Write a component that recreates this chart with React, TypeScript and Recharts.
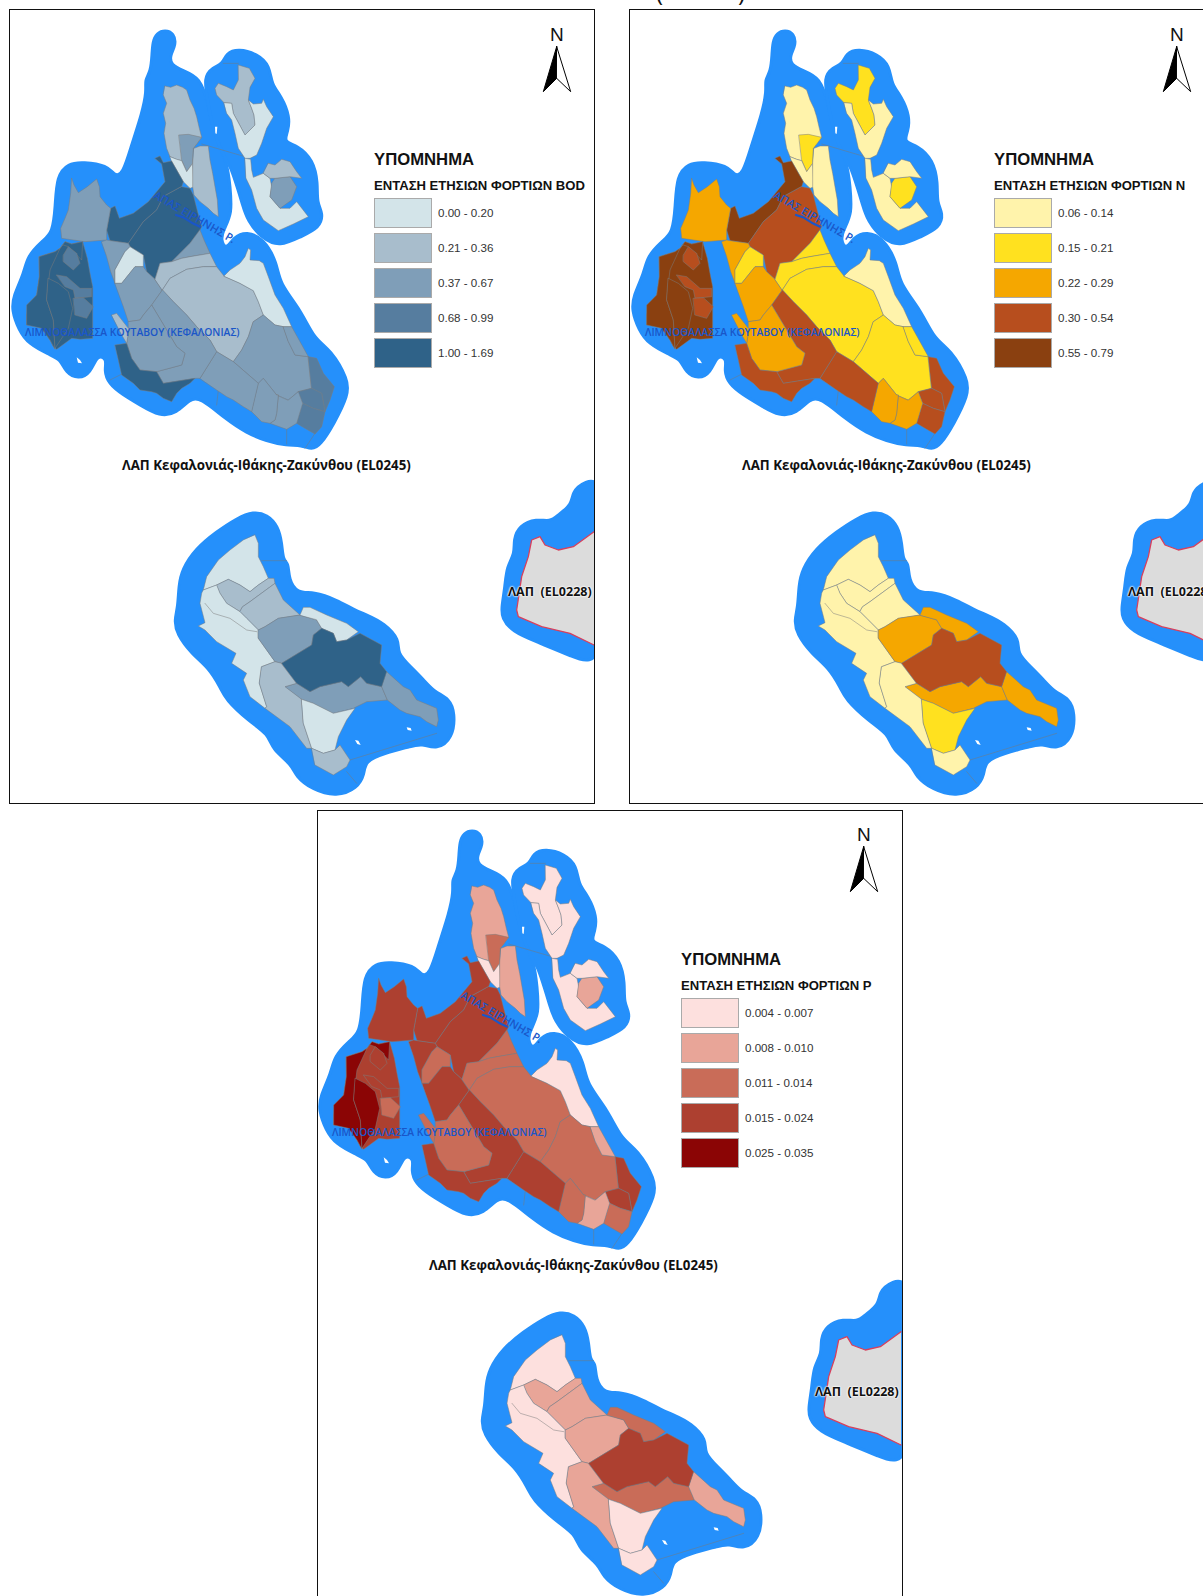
import { ScatterChart, Scatter, XAxis, YAxis } from 'recharts'

type Pt = [number, number]

// all outlines are in map units: 3 units = 1 screen px
const MAP_W = 1785
const MAP_H = 2430

const BOD_COLORS = ['#d3e4e9', '#a8bdcc', '#7f9eb8', '#567d9f', '#2f6288']
const N_COLORS = ['#fff3ab', '#ffe11f', '#f5a700', '#b74e1e', '#8a4010']
const P_COLORS = ['#fde0de', '#e8a598', '#c96c58', '#ad4030', '#8b0505']
const SEA_COLOR = '#2590fb'

const BOD_LABELS = ['0.00 - 0.20', '0.21 - 0.36', '0.37 - 0.67', '0.68 - 0.99', '1.00 - 1.69']
const N_LABELS = ['0.06 - 0.14', '0.15 - 0.21', '0.22 - 0.29', '0.30 - 0.54', '0.55 - 0.79']
const P_LABELS = ['0.004 - 0.007', '0.008 - 0.010', '0.011 - 0.014', '0.015 - 0.024', '0.025 - 0.035']

const kefaloniaSea: Pt[] = [[470,100],[495,90],[522,100],[528,135],[510,165],[512,195],[550,212],[600,232],[625,310],[640,400],[683,490],[690,560],[697,640],[670,690],[662,720],[678,750],[700,712],[740,694],[792,716],[832,790],[838,850],[903,930],[943,1018],[992,1048],[1045,1140],[1045,1185],[1002,1272],[962,1335],[935,1350],[905,1335],[860,1337],[800,1324],[738,1298],[678,1258],[600,1192],[570,1197],[530,1240],[480,1250],[418,1214],[368,1184],[326,1152],[312,1110],[322,1078],[292,1062],[272,1120],[235,1137],[197,1118],[182,1078],[148,1064],[86,1032],[56,990],[35,930],[40,888],[72,820],[82,768],[128,722],[158,698],[166,620],[170,528],[204,490],[250,486],[322,496],[342,526],[368,526],[396,430],[426,340],[440,272],[434,240],[452,215],[456,165],[458,125]]
const ithakiSea: Pt[] = [[610,232],[638,202],[668,192],[678,160],[715,146],[773,162],[810,198],[814,253],[844,288],[870,350],[864,395],[850,426],[893,436],[940,480],[954,550],[950,608],[970,640],[959,684],[902,710],[840,740],[788,718],[742,662],[727,612],[712,562],[692,502],[683,490],[640,400],[625,310]]
const zakynthosSea: Pt[] = [[310,64],[352,74],[384,108],[396,160],[399,212],[416,218],[416,268],[442,310],[490,305],[562,330],[612,360],[652,375],[703,400],[750,450],[740,488],[784,532],[818,566],[853,606],[899,626],[915,670],[909,744],[860,780],[815,760],[780,770],[702,790],[644,814],[644,852],[622,895],[560,920],[488,900],[436,858],[426,824],[366,778],[356,733],[297,694],[226,628],[211,592],[176,533],[126,493],[80,432],[73,390],[84,350],[86,288],[96,238],[137,176],[198,126],[260,85]]
const mainlandSea: Pt[] = [[420,50],[340,64],[306,98],[306,133],[263,166],[240,186],[200,176],[148,196],[130,240],[135,280],[110,320],[105,380],[95,440],[95,474],[127,515],[198,545],[298,585],[420,640]]
const mainlandLand: Pt[] = [[372,555],[300,520],[215,500],[145,470],[140,450],[155,350],[175,290],[185,240],[210,230],[225,255],[265,270],[310,260],[372,215]]

// Kefalonia and Ithaki sub-basins, drawn in this order
const kefaloniaShapes: Pt[][] = [
  [[495,258],[512,262],[530,255],[548,262],[560,270],[570,300],[582,325],[590,350],[598,385],[605,412],[590,432],[580,445],[578,490],[560,515],[545,482],[530,478],[510,470],[500,445],[492,400],[497,370],[490,340],[500,310],[490,285]],
  [[537,405],[565,403],[605,412],[590,432],[580,445],[578,490],[560,515],[545,480]],
  [[510,470],[530,478],[545,482],[560,515],[578,490],[582,560],[570,565],[550,545],[530,510],[515,485]],
  [[582,445],[600,438],[625,438],[630,480],[638,520],[645,560],[652,600],[655,650],[640,640],[625,625],[600,605],[582,585],[578,560],[578,490]],
  [[465,475],[480,468],[490,488],[515,483],[530,510],[550,545],[545,560],[490,590],[470,630],[430,665],[385,730],[330,722],[320,690],[332,625],[345,618],[358,655],[400,640],[445,605],[495,545],[485,492]],
  [[545,560],[570,565],[580,585],[590,625],[605,680],[600,690],[570,730],[515,785],[480,790],[465,838],[440,815],[430,765],[390,740],[385,730],[430,665],[470,630],[490,590]],
  [[215,535],[222,555],[235,578],[262,560],[290,537],[298,560],[300,590],[320,615],[332,625],[320,690],[320,720],[255,725],[185,715],[182,685],[195,655],[205,630],[212,580]],
  [[305,725],[320,720],[330,722],[385,730],[390,740],[375,755],[345,810],[345,850],[332,815],[320,770]],
  [[375,755],[390,740],[430,765],[430,800],[405,800],[365,850],[345,850],[345,810]],
  [[345,850],[365,850],[405,800],[430,800],[440,815],[465,838],[487,870],[455,915],[430,945],[420,960],[385,965],[370,920]],
  [[600,690],[612,720],[630,760],[600,765],[570,770],[545,775],[515,785],[570,730]],
  [[465,838],[480,790],[515,785],[545,775],[570,770],[600,765],[630,760],[650,800],[610,800],[560,808],[510,835],[487,870]],
  [[487,870],[510,835],[560,808],[610,800],[650,800],[672,828],[720,850],[760,872],[775,905],[790,945],[760,965],[745,1010],[725,1050],[700,1085],[650,1055],[630,1020],[590,980],[560,945],[520,905]],
  [[672,828],[690,810],[720,790],[735,770],[745,745],[752,750],[750,780],[778,782],[790,790],[805,830],[825,885],[850,925],[875,980],[850,980],[825,975],[790,945],[775,905],[760,872],[720,850]],
  [[760,965],[790,945],[825,975],[850,980],[865,1025],[885,1065],[925,1070],[935,1165],[895,1175],[865,1200],[830,1185],[790,1135],[775,1150],[700,1085],[725,1050],[745,1010]],
  [[850,980],[875,980],[900,1025],[925,1070],[885,1065],[865,1025]],
  [[925,1070],[950,1075],[970,1120],[1003,1160],[990,1200],[975,1235],[965,1180],[935,1165]],
  [[895,1175],[935,1165],[965,1180],[975,1235],[940,1225],[908,1210]],
  [[908,1210],[940,1225],[975,1235],[965,1280],[945,1302],[915,1285],[890,1270]],
  [[865,1200],[895,1175],[908,1210],[890,1270],[860,1288],[810,1270],[825,1260],[830,1240],[835,1185],[830,1185]],
  [[775,1150],[790,1135],[830,1185],[835,1185],[830,1240],[825,1260],[810,1270],[785,1265],[755,1235]],
  [[600,1135],[650,1055],[700,1085],[775,1150],[755,1235],[730,1220],[700,1200],[680,1190],[650,1170]],
  [[487,870],[455,915],[530,1040],[555,1060],[545,1095],[470,1115],[490,1150],[585,1135],[600,1135],[650,1055],[630,1020],[590,980],[560,945],[520,905]],
  [[385,965],[420,960],[430,945],[455,915],[530,1040],[555,1060],[545,1095],[470,1115],[420,1110],[395,1075],[380,1030],[385,1000]],
  [[345,1035],[380,1030],[395,1075],[420,1110],[470,1115],[490,1150],[585,1135],[570,1150],[545,1165],[530,1180],[515,1205],[490,1195],[470,1180],[455,1175],[420,1170],[400,1150],[365,1125],[355,1080]],
  [[335,945],[350,940],[385,985],[385,1000],[380,1030],[365,1005]],
  [[118,770],[165,755],[180,745],[195,725],[215,732],[248,725],[255,750],[262,775],[270,820],[278,860],[278,930],[278,1015],[240,1018],[215,1015],[170,1048],[160,1040],[150,1020],[125,985],[100,975],[80,975],[80,945],[85,915],[110,885],[115,850],[118,830]],
  [[118,770],[165,755],[180,745],[150,810],[145,850],[140,900],[160,960],[165,1048],[150,1020],[125,985],[80,975],[80,915],[110,885],[118,830]],
  [[145,835],[175,850],[205,875],[218,925],[205,985],[165,1045],[160,960],[140,900]],
  [[180,745],[195,725],[215,732],[248,725],[245,780],[225,760],[205,740],[190,735]],
  [[190,765],[205,740],[230,760],[240,790],[220,810],[190,785]],
  [[170,825],[200,830],[240,865],[275,865],[275,890],[225,895],[220,870],[195,860]],
  [[220,895],[250,893],[280,920],[260,955],[225,945]],
  [[715,195],[748,205],[765,235],[750,262],[745,300],[755,325],[762,345],[765,375],[735,405],[700,340],[695,310],[672,308],[650,285],[645,265],[655,250],[680,260],[700,270],[715,240]],
  [[672,308],[695,310],[700,340],[735,405],[765,375],[762,345],[755,325],[745,300],[760,312],[785,310],[790,298],[800,320],[820,350],[800,385],[785,430],[770,465],[750,475],[735,475],[715,445],[705,400],[695,360],[680,340]],
  [[735,475],[752,478],[755,510],[760,532],[790,520],[810,535],[815,560],[810,590],[840,625],[870,625],[890,605],[925,650],[880,672],[835,692],[790,660],[770,625],[755,570],[738,535]],
  [[825,535],[870,530],[890,560],[875,600],[840,625],[810,590],[815,550]],
  [[805,490],[825,495],[845,478],[870,485],[890,515],[905,535],[870,530],[825,535],[810,535],[790,520]],
]
const kefaloniaBod = [1,2,0,1,4,4,2,2,0,2,2,1,1,0,2,2,3,3,3,2,2,2,2,2,4,1,4,4,4,4,3,3,3,1,0,0,2,1]
const kefaloniaN = [0,1,0,0,4,3,2,2,1,2,1,1,1,0,1,1,3,3,3,2,2,3,3,2,3,2,4,4,4,4,3,3,3,1,0,0,1,0]
const kefaloniaP = [1,2,0,1,3,3,3,3,2,3,2,2,2,0,2,1,3,3,2,1,2,3,3,2,3,2,3,4,4,4,3,3,2,0,0,0,1,0]

const zakynthosShapes: Pt[][] = [
  [[315,135],[325,160],[325,200],[340,230],[355,265],[325,285],[300,305],[270,285],[235,268],[200,285],[160,300],[170,260],[205,210],[240,180],[280,150]],
  [[200,285],[235,268],[270,285],[300,305],[325,285],[355,265],[372,265],[375,280],[300,335],[278,350],[270,365],[230,340],[210,310]],
  [[278,350],[300,335],[375,280],[400,330],[450,375],[385,385],[345,410],[325,420],[290,385],[270,365]],
  [[160,300],[200,285],[210,310],[230,340],[270,365],[290,385],[325,420],[325,445],[375,515],[335,530],[328,580],[350,650],[345,655],[300,620],[280,570],[290,550],[245,520],[258,490],[200,455],[165,420],[145,408],[165,398],[150,340],[155,310]],
  [[325,420],[345,410],[385,385],[450,375],[500,390],[515,415],[490,435],[485,465],[395,520],[375,515],[325,445]],
  [[450,375],[460,352],[480,352],[530,375],[590,400],[625,425],[590,450],[560,455],[550,430],[515,415],[500,390]],
  [[405,590],[440,580],[480,605],[510,590],[575,575],[595,590],[632,560],[650,580],[695,590],[712,630],[650,635],[610,655],[550,670],[490,640],[455,628]],
  [[710,545],[760,590],[780,600],[800,630],[860,655],[865,690],[860,710],[830,695],[810,680],[770,670],[750,660],[712,630],[695,590]],
  [[335,530],[375,515],[395,520],[440,580],[405,590],[455,628],[460,700],[485,775],[470,775],[420,710],[345,655],[350,650],[328,580]],
  [[455,628],[490,640],[550,670],[615,655],[590,690],[565,740],[555,780],[520,790],[485,775],[460,700]],
  [[485,775],[520,790],[555,780],[570,765],[600,810],[590,830],[550,855],[495,825]],
  [[395,520],[485,465],[490,435],[515,415],[550,430],[560,455],[590,450],[630,430],[695,465],[690,520],[710,545],[695,590],[650,580],[632,560],[595,590],[575,575],[510,590],[480,605],[440,580]],
]
const zakynthosBod = [0,1,1,0,2,0,2,2,1,0,1,4]
const zakynthosN = [0,0,0,0,2,2,2,2,0,1,0,3]
const zakynthosP = [0,1,1,0,1,2,2,1,1,0,0,3]

const kefaloniaLines: Pt[][] = [
  [[605,432],[735,470]],
  [[670,190],[715,190]],
  [[330,1140],[370,1120]],
  [[860,1285],[860,1332]],
  [[945,1300],[915,1345]],
  [[655,1170],[650,1215]],
]
const zakynthosLines: Pt[][] = [
  [[335,212],[410,212]],
  [[600,810],[860,730]],
  [[590,845],[620,880]],
  [[165,340],[190,370],[240,385],[290,420],[320,425]],
]
const kefaloniaIslets: Pt[][] = [
  [[645,380],[652,380],[650,402],[646,400]],
  [[230,1072],[240,1080],[246,1090],[234,1088]],
]
const zakynthosIslets: Pt[][] = [
  [[615,750],[625,752],[632,765],[622,762]],
  [[770,712],[782,714],[785,722],[773,720]],
]
const river: Pt[] = [[528,645],[550,652],[575,668],[600,680]]
const arrowLeft: Pt[] = [[1670,140],[1630,275],[1670,235]]
const arrowRight: Pt[] = [[1670,140],[1712,275],[1670,235]]

const toData = (pts: Pt[], dx = 0, dy = 0) => pts.map(([x, y]) => ({ x: x + dx, y: y + dy }))
const NoDot = () => <g />

const ZAK_DX = 450
const ZAK_DY = 1470
const MAIN_DX = 1410
const MAIN_DY = 1380

function polygon(key: string, pts: Pt[], fill: string, stroke: string, strokeWidth: number, dx = 0, dy = 0, joint: any = 'linearClosed') {
  return (
    <Scatter
      key={key}
      data={toData(pts, dx, dy)}
      isAnimationActive={false}
      shape={NoDot}
      lineJointType={joint}
      line={{ fill, stroke, strokeWidth, strokeLinejoin: 'round', strokeLinecap: 'round' }}
    />
  )
}

interface MapPanelProps {
  left: number
  top: number
  frameLeft: number
  frameTop: number
  frameW: number
  frameH: number
  colors: string[]
  kefClasses: number[]
  zakClasses: number[]
  legendTitle: string
  labels: string[]
}

function MapPanel({ left, top, frameLeft, frameTop, frameW, frameH, colors, kefClasses, zakClasses, legendTitle, labels }: MapPanelProps) {
  return (
    <div style={{ position: 'absolute', left, top, width: MAP_W / 3, height: MAP_H / 3 }}>
      <ScatterChart width={MAP_W / 3} height={MAP_H / 3} margin={{ top: 0, right: 0, bottom: 0, left: 0 }}>
        <XAxis type="number" dataKey="x" domain={[0, MAP_W]} hide allowDataOverflow />
        <YAxis type="number" dataKey="y" domain={[0, MAP_H]} reversed hide allowDataOverflow />
        {polygon('mainSea', mainlandSea, SEA_COLOR, SEA_COLOR, 3, MAIN_DX, MAIN_DY, 'basisClosed')}
        {polygon('mainLand', mainlandLand, '#dcdcdc', 'none', 0, MAIN_DX, MAIN_DY)}
        {polygon('mainEdge', mainlandLand, 'none', '#d8405c', 1.3, MAIN_DX, MAIN_DY, 'linear')}
        {polygon('kefSea', kefaloniaSea, SEA_COLOR, SEA_COLOR, 3, 0, 0, 'basisClosed')}
        {polygon('ithSea', ithakiSea, SEA_COLOR, SEA_COLOR, 3, 0, 0, 'basisClosed')}
        {polygon('zakSea', zakynthosSea, SEA_COLOR, SEA_COLOR, 3, ZAK_DX, ZAK_DY, 'basisClosed')}
        {kefaloniaLines.map((l, i) => polygon(`kl${i}`, l, 'none', '#5f7f9f', 0.7, 0, 0, 'linear'))}
        {zakynthosLines.slice(0, 3).map((l, i) => polygon(`zl${i}`, l, 'none', '#5f7f9f', 0.7, ZAK_DX, ZAK_DY, 'linear'))}
        {kefaloniaIslets.map((s, i) => polygon(`ki${i}`, s, '#ffffff', 'none', 0))}
        {zakynthosIslets.map((s, i) => polygon(`zi${i}`, s, '#ffffff', 'none', 0, ZAK_DX, ZAK_DY))}
        {kefaloniaShapes.map((s, i) => polygon(`k${i}`, s, colors[kefClasses[i]], '#7c7c7c', 0.5))}
        {zakynthosShapes.map((s, i) => polygon(`z${i}`, s, colors[zakClasses[i]], '#7c7c7c', 0.5, ZAK_DX, ZAK_DY))}
        {polygon('zl3', zakynthosLines[3], 'none', '#7c7c7c', 0.5, ZAK_DX, ZAK_DY, 'linear')}
        {polygon('river', river, 'none', '#1a56c8', 2.2, 0, 0, 'linear')}
        {polygon('arrowL', arrowLeft, '#000000', '#000000', 1)}
        {polygon('arrowR', arrowRight, '#ffffff', '#000000', 1)}
      </ScatterChart>

      <div style={{ position: 'absolute', left: frameLeft, top: frameTop, width: frameW, height: frameH, border: '1.5px solid #111', boxSizing: 'border-box', pointerEvents: 'none' }} />

      <div style={{ position: 'absolute', left: 550, top: 24, font: '19px "Liberation Sans"', color: '#111' }}>N</div>

      <div style={{ position: 'absolute', left: 374, top: 150, font: 'bold 16.7px "Liberation Sans"', color: '#111' }}>ΥΠΟΜΝΗΜΑ</div>
      <div style={{ position: 'absolute', left: 374, top: 178, font: 'bold 13.1px "Liberation Sans"', color: '#111', whiteSpace: 'nowrap' }}>{legendTitle}</div>
      {labels.map((label, i) => (
        <div key={label}>
          <div style={{ position: 'absolute', left: 374, top: 198 + i * 35, width: 58, height: 30, background: colors[i], border: '1px solid #aaa', boxSizing: 'border-box' }} />
          <div style={{ position: 'absolute', left: 438, top: 206 + i * 35, font: '11.6px "Liberation Sans"', color: '#333', whiteSpace: 'nowrap' }}>{label}</div>
        </div>
      ))}

      <div style={{ position: 'absolute', left: 122, top: 456, font: 'bold 13.3px "Open Sans"', color: '#111', whiteSpace: 'nowrap' }}>ΛΑΠ Κεφαλονιάς-Ιθάκης-Ζακύνθου (EL0245)</div>
      <div style={{ position: 'absolute', left: 508, top: 583, font: 'bold 12.5px "Open Sans"', color: '#111', whiteSpace: 'pre', textShadow: '0 0 2px #fff, 0 0 2px #fff, 0 0 2px #fff' }}>ΛΑΠ  (EL0228)</div>
      <div style={{ position: 'absolute', left: 25, top: 325, font: '600 10.3px "Open Sans"', color: '#1a56c8', whiteSpace: 'nowrap' }}>ΛΙΜΝΟΘΑΛΑΣΣΑ ΚΟΥΤΑΒΟΥ (ΚΕΦΑΛΟΝΙΑΣ)</div>
      <div style={{ position: 'absolute', left: 155, top: 186, font: '600 11px "Open Sans"', color: '#1a56c8', whiteSpace: 'nowrap', transform: 'rotate(30deg)', transformOrigin: 'left center' }}>ΑΠΑΣ ΕΙΡΗΝΗΣ Ρ.</div>
    </div>
  )
}

export default function App() {
  return (
    <div style={{ position: 'absolute', left: 0, top: 0, width: 1203, height: 1596, overflow: 'hidden', background: '#fff' }}>
      <div style={{ position: 'absolute', left: 656, top: -25, font: '24px "Open Sans"', color: '#111' }}>(</div>
      <div style={{ position: 'absolute', left: 738, top: -25, font: '24px "Open Sans"', color: '#111' }}>)</div>
      <MapPanel left={0} top={0} frameLeft={9} frameTop={9} frameW={586} frameH={795} colors={BOD_COLORS} kefClasses={kefaloniaBod} zakClasses={zakynthosBod} legendTitle="ΕΝΤΑΣΗ ΕΤΗΣΙΩΝ ΦΟΡΤΙΩΝ BOD" labels={BOD_LABELS} />
      <MapPanel left={620} top={0} frameLeft={9} frameTop={9} frameW={586} frameH={795} colors={N_COLORS} kefClasses={kefaloniaN} zakClasses={zakynthosN} legendTitle="ΕΝΤΑΣΗ ΕΤΗΣΙΩΝ ΦΟΡΤΙΩΝ N" labels={N_LABELS} />
      <MapPanel left={307} top={800} frameLeft={9.5} frameTop={10} frameW={586} frameH={810} colors={P_COLORS} kefClasses={kefaloniaP} zakClasses={zakynthosP} legendTitle="ΕΝΤΑΣΗ ΕΤΗΣΙΩΝ ΦΟΡΤΙΩΝ P" labels={P_LABELS} />
    </div>
  )
}
